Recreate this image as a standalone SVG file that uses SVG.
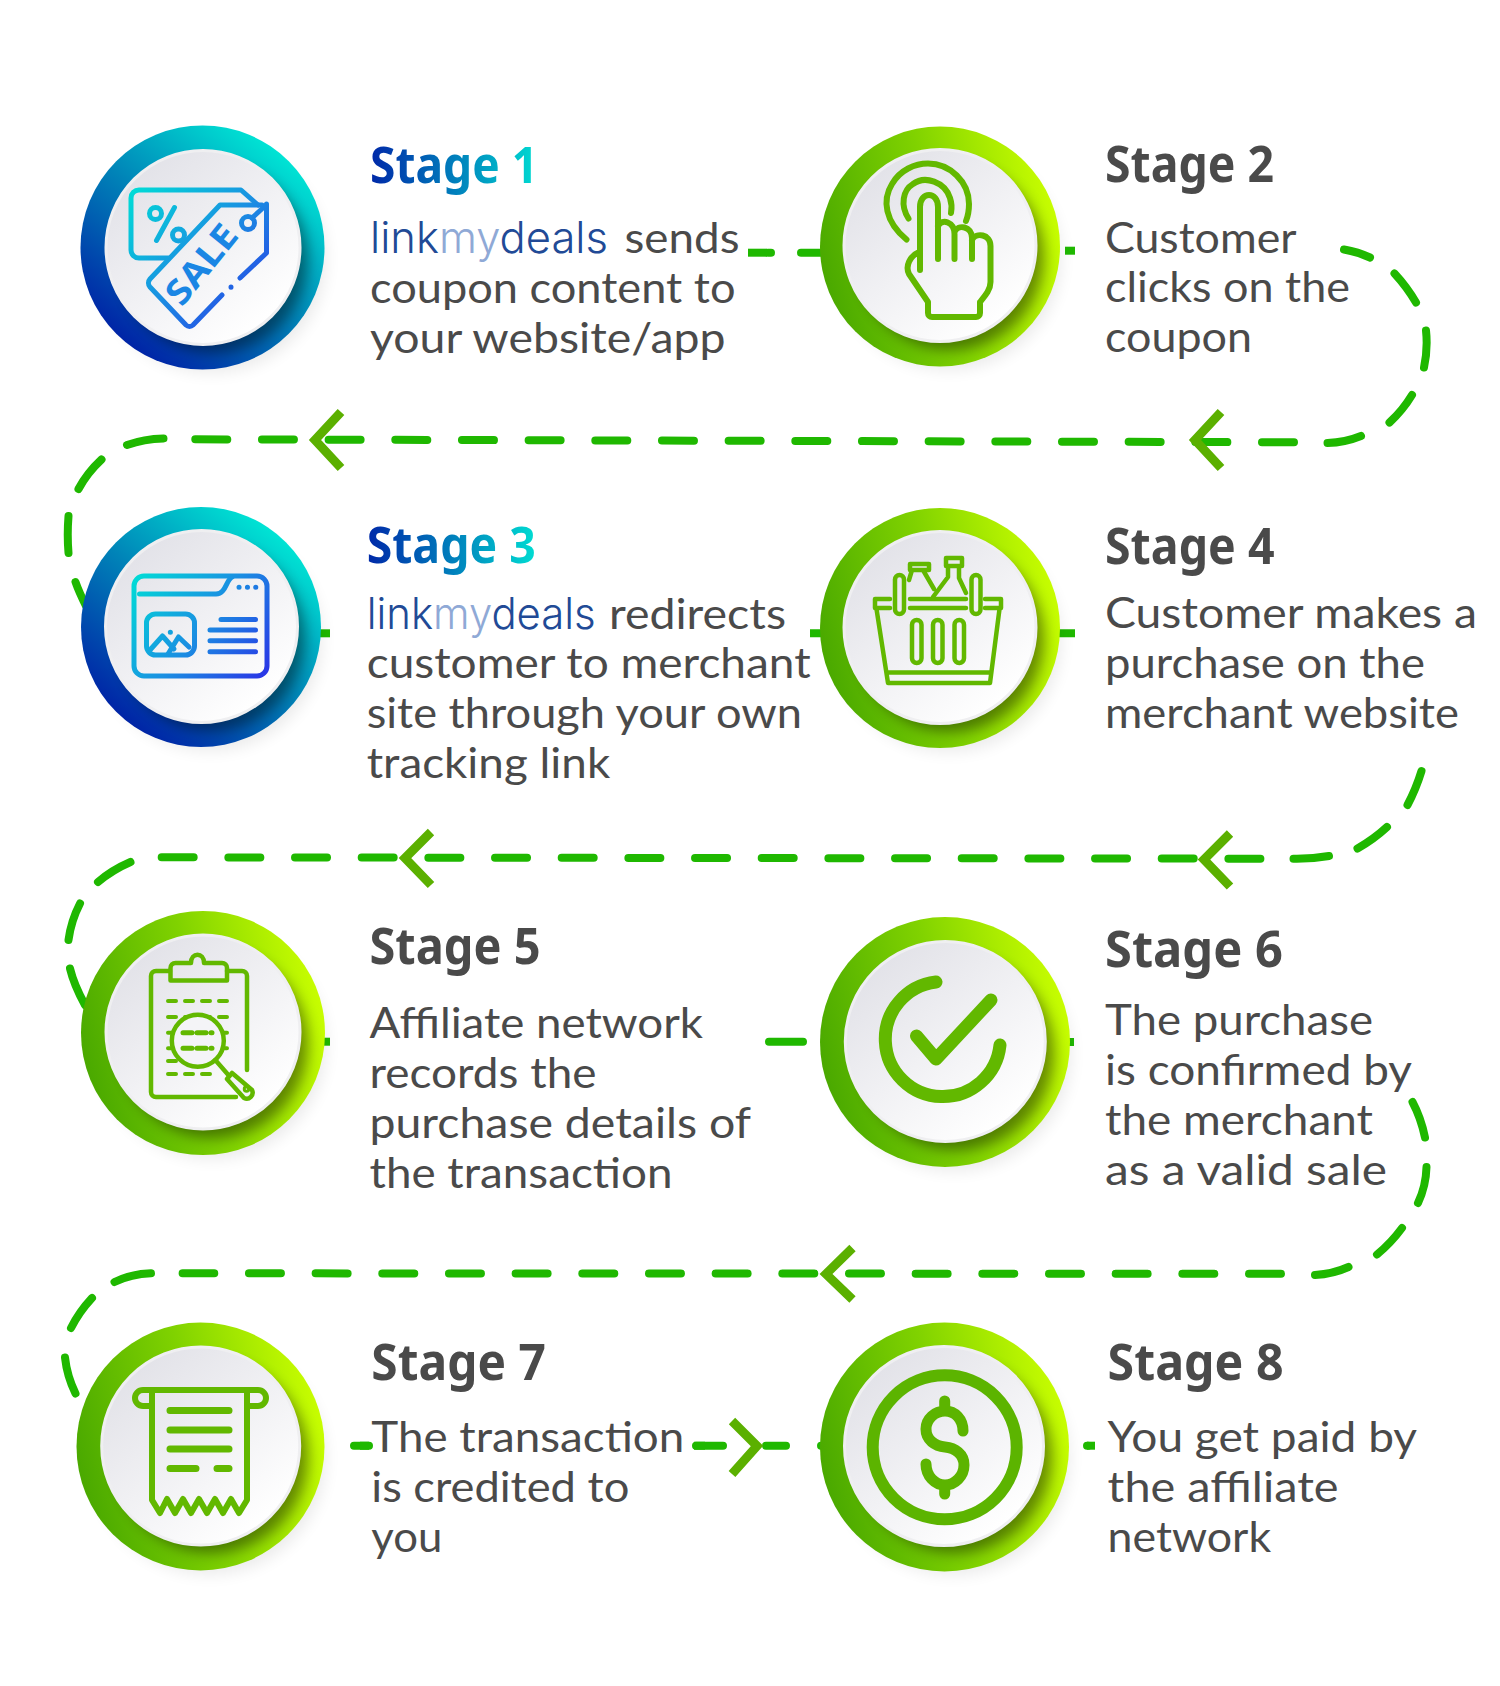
<svg xmlns="http://www.w3.org/2000/svg" width="1500" height="1686" viewBox="0 0 1500 1686">
<style>
.h{font:700 50px "Noto Sans","Open Sans",sans-serif;fill:#4a4a4a;transform:translate(-1px,0)}
.b{font:400 43px "Lato","Noto Sans",sans-serif;fill:#4a4a4a;transform:translate(-1px,1px)}
.logo{font:300 44px "Inter","Noto Sans",sans-serif;fill:#214a96;transform:translate(-1px,1px)}
.my{fill:#8fa9d6}
.run{fill:none;stroke:#1fb800;stroke-width:8;stroke-linecap:round;stroke-dasharray:32 34.67}
.d{fill:none;stroke:#1fb800;stroke-width:8;stroke-linecap:round}
.s{fill:none;stroke:#1fb800;stroke-width:8}
.ah{fill:none;stroke:#5bb000;stroke-width:9}
.disc{fill:url(#gDisc);stroke:#efeff1;stroke-width:3}
.blue{fill:url(#gBlue)}
.green{fill:url(#gGreen)}
.soft{fill:#000;opacity:.08;filter:url(#blurL)}
.sh{fill:#000;opacity:.42;filter:url(#blurM)}
.ig{fill:none;stroke:#62b800;stroke-width:6;stroke-linecap:round;stroke-linejoin:round}
</style>
<defs>
<linearGradient id="gBlue" x1=".85" y1=".1" x2=".2" y2=".9"><stop offset="0" stop-color="#00ead6"/><stop offset=".5" stop-color="#0084b8"/><stop offset="1" stop-color="#0024a6"/></linearGradient>
<linearGradient id="gGreen" x1="0" y1=".6" x2="1" y2=".35"><stop offset="0" stop-color="#49a800"/><stop offset=".5" stop-color="#80d200"/><stop offset="1" stop-color="#caff00"/></linearGradient>
<linearGradient id="gDisc" x1=".15" y1=".1" x2=".8" y2=".9"><stop offset="0" stop-color="#e2e2e8"/><stop offset="1" stop-color="#ffffff"/></linearGradient>
<linearGradient id="gHead" x1="0" y1="0" x2="1" y2="0"><stop offset="0" stop-color="#0028a8"/><stop offset=".6" stop-color="#0090c0"/><stop offset="1" stop-color="#00dcd2"/></linearGradient>
<linearGradient id="iB1" gradientUnits="userSpaceOnUse" x1="130" y1="190" x2="268" y2="320"><stop offset="0" stop-color="#00dcd6"/><stop offset=".5" stop-color="#1a90e2"/><stop offset="1" stop-color="#2a34e6"/></linearGradient>
<linearGradient id="iB3" gradientUnits="userSpaceOnUse" x1="134" y1="576" x2="267" y2="676"><stop offset="0" stop-color="#00dcd6"/><stop offset=".5" stop-color="#1a90e2"/><stop offset="1" stop-color="#2a34e6"/></linearGradient>
<filter id="blurM" x="-30%" y="-30%" width="160%" height="160%"><feGaussianBlur stdDeviation="7"/></filter>
<filter id="blurL" x="-30%" y="-30%" width="160%" height="160%"><feGaussianBlur stdDeviation="8"/></filter>
<clipPath id="c1"><circle cx="202.5" cy="247.5" r="122"/></clipPath>
<clipPath id="c2"><circle cx="940" cy="246.5" r="120"/></clipPath>
<clipPath id="c3"><circle cx="201" cy="627" r="120"/></clipPath>
<clipPath id="c4"><circle cx="940" cy="628" r="120"/></clipPath>
<clipPath id="c5"><circle cx="203" cy="1033" r="122"/></clipPath>
<clipPath id="c6"><circle cx="945" cy="1042" r="125"/></clipPath>
<clipPath id="c7"><circle cx="200.5" cy="1446.5" r="124"/></clipPath>
<clipPath id="c8"><circle cx="944.5" cy="1447" r="124.5"/></clipPath>
</defs>
<rect width="1500" height="1686" fill="#fff"/>

<g id="connectors">
<path class="s" d="M748 252.7H767"/>
<path class="d" d="M771 252.7H768"/>
<path class="d" d="M801 252.7H825"/>
<path class="s" d="M1065 250.7H1075"/>
<path class="d" d="M1344 249.5Q1358 252 1370 257.5M1394.5 273.5Q1407 287 1416 302.5M1426 330.5Q1428 349 1424 367.5M1412 395Q1403 410 1389.5 422.5M1361 436Q1345 442.5 1327.5 443"/>
<path class="run" d="M1294 442.3L195 439.3"/>
<path class="ah" d="M1221 412L1195 440L1221 468"/>
<path class="ah" d="M341 412L315 440L341 468"/>
<path class="d" d="M163.5 438.5Q144 439 127 445M101.5 459.5Q87 473 78.5 489M68.5 516Q67 535 68.5 553M75.5 582Q79 592 86 606"/>
<path class="s" d="M320 633.3H330"/>
<path class="s" d="M810 633.3H825M1055 633.3H1075"/>
<path class="d" d="M1421.5 771Q1416 789 1407.5 805M1387 827Q1374 839 1357.5 848.5M1329 856Q1312 859 1293.5 858.7"/>
<path class="run" d="M1260.4 858.7L161 857.3"/>
<path class="ah" d="M1230 833.5L1204 859.5L1230 886.5"/>
<path class="ah" d="M431 832L405 858L431 885"/>
<path class="d" d="M130.5 862Q112 870 98 882M80 903.5Q71 921 68.5 940M70 968.5Q74 985 85 1005"/>
<path class="s" d="M322 1041.7H330"/>
<path class="d" d="M769 1041.7H803"/>
<path class="s" d="M1066 1042H1074"/>
<path class="d" d="M1412.5 1102Q1421 1118 1425 1137.5M1426.5 1167Q1426 1186 1418 1203M1402 1228Q1391 1243 1377 1254.5M1348.5 1267Q1333 1274 1315 1275"/>
<path class="run" d="M1281 1273.8L182.6 1273.3"/>
<path class="ah" d="M852.5 1248L826 1274L852.5 1299.5"/>
<path class="d" d="M151 1273.3Q131 1274 114.5 1282M92 1298Q79 1312 71 1328M65 1357.5Q67 1376 75.5 1393.5"/>
<path class="d" d="M354 1445.7H369M723 1445.7H696M766 1445.7H786"/>
<path class="s" d="M369 1445.7H360M694 1445.7H705"/>
<path class="ah" d="M732 1421L757 1446L732 1474"/>
<path class="d" d="M821 1445.7H824"/>
<path class="s" d="M1095 1445.7H1087"/>
<path class="d" d="M1088 1445.7H1087"/>
</g>

<g id="stage1">
<circle class="soft" cx="212" cy="259" r="114"/>
<circle class="blue" cx="202.5" cy="247.5" r="122"/>
<g clip-path="url(#c1)"><circle class="sh" cx="214" cy="259" r="94"/></g>
<circle class="disc" cx="203" cy="247.5" r="97"/>
<g fill="none" stroke="url(#iB1)" stroke-width="5" stroke-linecap="round" stroke-linejoin="round">
<path d="M168 258H139a8 8 0 0 1-8-8V198a8 8 0 0 1 8-8H241L258 205"/>
<circle cx="155.5" cy="213.5" r="6"/><path d="M174.5 207.5L156.5 240.5"/><circle cx="178.5" cy="235" r="6"/>
<path d="M262 205H220L150 279a6 6 0 0 0 0 8L186 325a5 5 0 0 0 7 0L222 295M231 287V287.2M240 278L266.5 253V204"/>
<circle cx="248" cy="223" r="6.5"/><path d="M252 218L265 206"/>
</g>
<text transform="translate(211 272) rotate(-51)" font-family="Noto Sans,sans-serif" font-weight="700" font-size="35" text-anchor="middle" fill="#1a86e4" textLength="92" lengthAdjust="spacingAndGlyphs">SALE</text>
<text class="h" x="371" y="182.5" style="fill:url(#gHead)" textLength="168" lengthAdjust="spacingAndGlyphs">Stage 1</text>
<text class="logo" x="371" y="252" textLength="238" lengthAdjust="spacingAndGlyphs">link<tspan class="my">my</tspan>deals</text>
<text class="b" x="625.5" y="252" textLength="115" lengthAdjust="spacingAndGlyphs">sends</text>
<text class="b" x="371" y="301.7" textLength="365.5" lengthAdjust="spacingAndGlyphs">coupon content to</text>
<text class="b" x="371" y="351.7" textLength="355.5" lengthAdjust="spacingAndGlyphs">your website/app</text>
</g>

<g id="stage2">
<circle class="soft" cx="949" cy="258" r="112"/>
<circle class="green" cx="940" cy="246.5" r="120"/>
<g clip-path="url(#c2)"><circle class="sh" cx="951" cy="257" r="93"/></g>
<circle class="disc" cx="940" cy="245.5" r="96"/>
<g class="ig">
<path d="M906.5 239.5C885 222 882 200 892 184C900 170 915 163.5 928 163.5C950 163.5 969 182 969 204C969 210 968 216 966 221"/>
<path d="M908.5 218.5C900 205 903 190 913 184C925 175 945 182 950 198C952 204 952 208 951 213"/>
<path d="M920 270V207C920 191 938 191 938 207V259M938 226C942 218 954.5 222 954.5 234V259M954.5 232C958 224 972 226 972 238V259M972 240C976 232 990.5 234 990.5 246V282C990.5 290 985 296 980 302V313a4 4 0 0 1-4 4H932a4 4 0 0 1-4-4V302L909 274C905 266 910 256 919 252"/>
</g>
<text class="h" x="1106" y="182" textLength="169" lengthAdjust="spacingAndGlyphs">Stage 2</text>
<text class="b" x="1106" y="251.7" textLength="191.5" lengthAdjust="spacingAndGlyphs">Customer</text>
<text class="b" x="1106" y="301" textLength="245" lengthAdjust="spacingAndGlyphs">clicks on the</text>
<text class="b" x="1106" y="351" textLength="147" lengthAdjust="spacingAndGlyphs">coupon</text>
</g>

<g id="stage3">
<circle class="soft" cx="210" cy="639" r="112"/>
<circle class="blue" cx="201" cy="627" r="120"/>
<g clip-path="url(#c3)"><circle class="sh" cx="212" cy="638" r="93"/></g>
<circle class="disc" cx="201.5" cy="626.5" r="96"/>
<g fill="none" stroke="url(#iB3)" stroke-width="5" stroke-linecap="round" stroke-linejoin="round">
<rect x="134" y="576" width="133" height="100" rx="10"/>
<path d="M139.5 594H216C226 594 226 580 232 577"/>
<rect x="146.5" y="614" width="48" height="41" rx="9"/>
<path d="M150 650L162.5 636L174 649M168 654L178.5 637L189 647"/>
<path d="M221 619.5H255.5M210 630H255.5M210 640.7H255.5M210 651.7H255.5"/>
<path d="M239 587.3h.1M247.4 587.3h.1M255.7 587.3h.1M170.3 632.3h.1"/>
</g>
<text class="h" x="367.7" y="562.7" style="fill:url(#gHead)" textLength="169" lengthAdjust="spacingAndGlyphs">Stage 3</text>
<text class="logo" x="367.7" y="627.7" textLength="229" lengthAdjust="spacingAndGlyphs">link<tspan class="my">my</tspan>deals</text>
<text class="b" x="610" y="627.7" textLength="177" lengthAdjust="spacingAndGlyphs">redirects</text>
<text class="b" x="367.7" y="677.3" textLength="444" lengthAdjust="spacingAndGlyphs">customer to merchant</text>
<text class="b" x="367.7" y="726.7" textLength="435.3" lengthAdjust="spacingAndGlyphs">site through your own</text>
<text class="b" x="367.7" y="776.7" textLength="243.500" lengthAdjust="spacingAndGlyphs">tracking link</text>
</g>

<g id="stage4">
<circle class="soft" cx="949" cy="640" r="112"/>
<circle class="green" cx="940" cy="628" r="120"/>
<g clip-path="url(#c4)"><circle class="sh" cx="951" cy="639" r="93"/></g>
<circle class="disc" cx="940" cy="627.5" r="96"/>
<g class="ig" style="stroke-width:4.5">
<path d="M890 599H875V608H890M910 599H966M910 608H966M985 599H1001V608H985"/>
<rect x="895" y="575" width="9" height="39" rx="4.5"/><rect x="971.5" y="575" width="9" height="39" rx="4.5"/>
<path d="M876.5 609L888 683H990L999.5 609M887 672.5H991"/>
<rect x="912" y="620" width="9.5" height="43" rx="4.7"/><rect x="933" y="620" width="9.5" height="43" rx="4.7"/><rect x="954.5" y="620" width="9.5" height="43" rx="4.7"/>
<path d="M910 570V564H929V570H910M912 570L909 580M923 570L934 589M946 566V558H962V566H946M948 566V577L933 597M959 566V578L966 593"/>
</g>
<text class="h" x="1106" y="564" textLength="169.5" lengthAdjust="spacingAndGlyphs">Stage 4</text>
<text class="b" x="1106" y="626.7" textLength="372" lengthAdjust="spacingAndGlyphs">Customer makes a</text>
<text class="b" x="1106" y="676.7" textLength="320" lengthAdjust="spacingAndGlyphs">purchase on the</text>
<text class="b" x="1106" y="726.7" textLength="354" lengthAdjust="spacingAndGlyphs">merchant website</text>
</g>

<g id="stage5">
<circle class="soft" cx="212" cy="1045" r="114"/>
<circle class="green" cx="203" cy="1033" r="122"/>
<g clip-path="url(#c5)"><circle class="sh" cx="214" cy="1044" r="94"/></g>
<circle class="disc" cx="203" cy="1032" r="97"/>
<g class="ig" style="stroke-width:4.5">
<path d="M170 971H156a5 5 0 0 0-5 5V1092a5 5 0 0 0 5 5H236M227 971H242a5 5 0 0 1 5 5V1070"/>
<path d="M170.5 980.5V968a5 5 0 0 1 5-5H191C191 952 204 952 204 963H222a5 5 0 0 1 5 5V980.5Z"/>
<path d="M168 1001H229M168 1017H229M168 1032.7H229M168 1048.3H229M168 1061H190M168 1074H215" stroke-dasharray="8 9" stroke-width="4"/>
<circle cx="197.8" cy="1040.7" r="26" fill="#f4f4f7"/>
<path d="M183 1032.7H212M183 1048.3H212" stroke-width="5" stroke-dasharray="9 5"/>
<path d="M215.3 1060L231 1078"/>
<path d="M232 1073L252 1090a6 6 0 0 1-8 8L227 1079Z" fill="#f4f4f7"/>
<circle cx="246.5" cy="1089" r="1.5"/>
</g>
<text class="h" x="370.5" y="964" textLength="171" lengthAdjust="spacingAndGlyphs">Stage 5</text>
<text class="b" x="370.5" y="1037.3" textLength="333.5" lengthAdjust="spacingAndGlyphs">Affiliate network</text>
<text class="b" x="370.5" y="1087.3" textLength="227" lengthAdjust="spacingAndGlyphs">records the</text>
<text class="b" x="370.5" y="1137.3" textLength="381.5" lengthAdjust="spacingAndGlyphs">purchase details of</text>
<text class="b" x="370.5" y="1187.3" textLength="303" lengthAdjust="spacingAndGlyphs">the transaction</text>
</g>

<g id="stage6">
<circle class="soft" cx="954" cy="1054" r="117"/>
<circle class="green" cx="945" cy="1042" r="125"/>
<g clip-path="url(#c6)"><circle class="sh" cx="957" cy="1053" r="97"/></g>
<circle class="disc" cx="945.3" cy="1041.5" r="100"/>
<g class="ig" style="stroke-width:13">
<path d="M936 982A57.5 57.5 0 1 0 1000 1045"/>
<path d="M916.5 1036L936 1059L991 1000"/>
</g>
<text class="h" x="1106" y="966.7" textLength="178" lengthAdjust="spacingAndGlyphs">Stage 6</text>
<text class="b" x="1106" y="1034.3" textLength="268" lengthAdjust="spacingAndGlyphs">The purchase</text>
<text class="b" x="1106" y="1084.3" textLength="307" lengthAdjust="spacingAndGlyphs">is confirmed by</text>
<text class="b" x="1106" y="1134.3" textLength="268" lengthAdjust="spacingAndGlyphs">the merchant</text>
<text class="b" x="1106" y="1184.3" textLength="282" lengthAdjust="spacingAndGlyphs">as a valid sale</text>
</g>

<g id="stage7">
<circle class="soft" cx="209.5" cy="1458.5" r="116"/>
<circle class="green" cx="200.5" cy="1446.5" r="124"/>
<g clip-path="url(#c7)"><circle class="sh" cx="212" cy="1457" r="96"/></g>
<circle class="disc" cx="200.7" cy="1446" r="99"/>
<g class="ig">
<path d="M152 1406H143a8 8 0 0 1 0-16H258a8 8 0 0 1 0 16H247"/>
<path d="M152 1391V1500L160 1513L167 1499L175 1513L183 1499L191 1513L199 1499L207 1513L215 1499L223 1513L231 1499L239 1513L247 1500V1391"/>
<path d="M170 1410.5H229M170 1430H229M170 1449H229M170 1468.5H196M217 1468.5H229" stroke-width="7"/>
</g>
<text class="h" x="372.3" y="1380" textLength="174.5" lengthAdjust="spacingAndGlyphs">Stage 7</text>
<text class="b" x="372.3" y="1450.7" textLength="313" lengthAdjust="spacingAndGlyphs">The transaction</text>
<text class="b" x="372.3" y="1500.7" textLength="258" lengthAdjust="spacingAndGlyphs">is credited to</text>
<text class="b" x="372.3" y="1550.7" textLength="71" lengthAdjust="spacingAndGlyphs">you</text>
</g>

<g id="stage8">
<circle class="soft" cx="953.5" cy="1459" r="116"/>
<circle class="green" cx="944.5" cy="1447" r="124.5"/>
<g clip-path="url(#c8)"><circle class="sh" cx="956" cy="1457" r="96"/></g>
<circle class="disc" cx="944" cy="1446" r="99.5"/>
<g class="ig" style="stroke:#5cb400">
<circle cx="944.7" cy="1447.3" r="72" stroke-width="12"/>
<path stroke-width="11" d="M963 1431C963 1419 955 1411 945 1411C935 1411 926 1419 926 1429C926 1440 935 1446 945 1447C955 1448 964 1454 964 1465C964 1476 955 1485 945 1485C935 1485 926 1476 926 1464M944.7 1401V1411M944.7 1485V1494"/>
</g>
<text class="h" x="1108.6" y="1380" textLength="176" lengthAdjust="spacingAndGlyphs">Stage 8</text>
<text class="b" x="1108.6" y="1450.7" textLength="309.5" lengthAdjust="spacingAndGlyphs">You get paid by</text>
<text class="b" x="1108.6" y="1500.7" textLength="231" lengthAdjust="spacingAndGlyphs">the affiliate</text>
<text class="b" x="1108.6" y="1550.7" textLength="163.5" lengthAdjust="spacingAndGlyphs">network</text>
</g>
</svg>
